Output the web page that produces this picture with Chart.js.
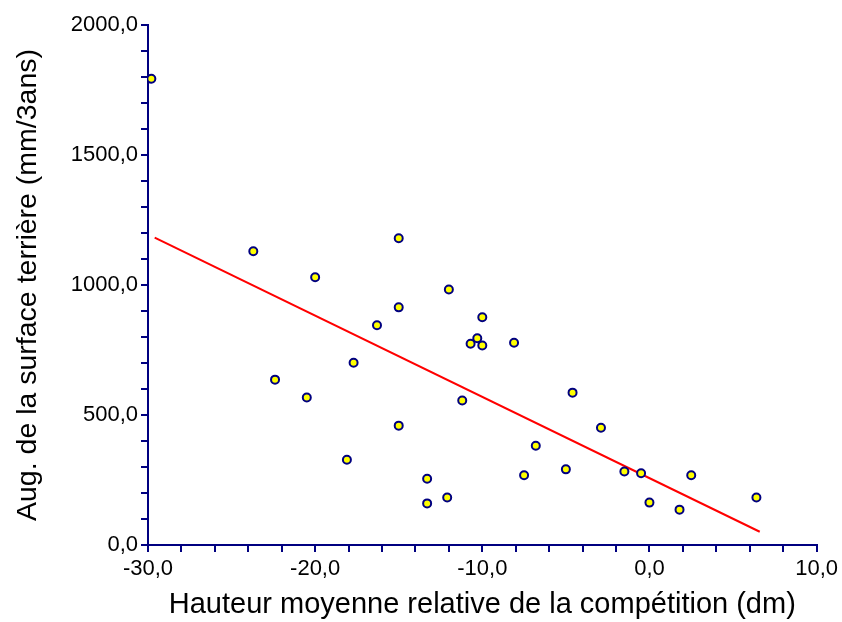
<!DOCTYPE html>
<html lang="fr">
<head>
<meta charset="utf-8">
<title>Augmentation de la surface terrière</title>
<script src="https://cdn.jsdelivr.net/npm/chart.js@4/dist/chart.umd.min.js"></script>
<style>
    html, body { margin: 0; padding: 0; background: #ffffff; }
    .chart-wrap { position: relative; width: 842px; height: 622px; }
</style>
</head>
<body>
<div class="chart-wrap">
    <canvas id="growthChart"></canvas>
</div>
<script>
// Values
const heightRel = [-29.8, -23.7, -22.4, -20.5, -20.0, -18.1, -17.7, -16.3, -15.0, -15.0, -15.0,
    -13.3, -13.3, -12.1, -12.0, -11.2, -10.7, -10.3, -10.0, -10.0, -8.1, -7.5, -6.8, -5.0,
    -4.6, -2.9, -1.5, -0.5, 0.0, 1.8, 2.5, 6.4];
const basalGrowth = [1793, 1130, 636, 567, 1030, 328, 701, 845, 1180, 914, 459,
    255, 160, 183, 983, 556, 774, 795, 876, 767, 778, 268, 382, 291,
    586, 451, 283, 276, 163, 136, 268, 183];

// Regression line end points
const fitX = [-29.6, 6.6];
const fitY = [1182, 51];

const xLabelTicks = [-30, -20, -10, 0, 10];
const yLabelTicks = [0, 500, 1000, 1500, 2000];

const AXIS_COLOR = '#000080';

document.addEventListener('DOMContentLoaded', () => {
    renderChart();
});

function frNumber(v) {
    return v.toFixed(1).replace('.', ',');
}

function renderChart() {
    const ctx = document.getElementById('growthChart');
    if (!ctx || typeof Chart === 'undefined') return;

    Chart.defaults.font.family = '"Liberation Sans", Arial, sans-serif';
    Chart.defaults.color = '#000000';

    const points = heightRel.map((x, i) => ({ x: x, y: basalGrowth[i] }));
    const fitLine = fitX.map((x, i) => ({ x: x, y: fitY[i] }));

    const axisGrid = {
        drawOnChartArea: false,
        drawTicks: true,
        tickLength: 7,
        tickWidth: 2,
        tickColor: AXIS_COLOR,
        color: AXIS_COLOR,
        lineWidth: 2
    };

    new Chart(ctx, {
        type: 'scatter',
        data: {
            datasets: [{
                data: points,
                backgroundColor: '#ffff00',
                borderColor: AXIS_COLOR,
                borderWidth: 2,
                pointRadius: 4,
                pointHoverRadius: 4,
                order: 1
            }, {
                type: 'line',
                data: fitLine,
                borderColor: '#ff0000',
                borderWidth: 2,
                pointRadius: 0,
                fill: false,
                order: 2
            }]
        },
        options: {
            responsive: true,
            maintainAspectRatio: false,
            animation: false,
            layout: { padding: { top: 25, right: 22, left: 0, bottom: 0 } },
            plugins: {
                legend: { display: false },
                tooltip: { enabled: false }
            },
            scales: {
                x: {
                    type: 'linear',
                    min: -30,
                    max: 10,
                    grid: axisGrid,
                    border: { display: true, color: AXIS_COLOR, width: 2 },
                    ticks: {
                        stepSize: 2,
                        autoSkip: false,
                        maxRotation: 0,
                        padding: 4,
                        font: { size: 22 },
                        callback: v => xLabelTicks.includes(Math.round(v * 10) / 10) ? frNumber(v) : ''
                    },
                    title: {
                        display: true,
                        text: 'Hauteur moyenne relative de la compétition (dm)',
                        font: { size: 29 },
                        padding: { top: 0, bottom: 0 }
                    },
                    afterFit: scale => { scale.height = 77; }
                },
                y: {
                    type: 'linear',
                    min: 0,
                    max: 2000,
                    grid: axisGrid,
                    border: { display: true, color: AXIS_COLOR, width: 2 },
                    ticks: {
                        stepSize: 100,
                        autoSkip: false,
                        padding: 3,
                        font: { size: 22 },
                        callback: v => yLabelTicks.includes(Math.round(v)) ? frNumber(v) : ''
                    },
                    title: {
                        display: true,
                        text: 'Aug. de la surface terrière (mm/3ans)',
                        font: { size: 28.5 },
                        padding: { top: 11, bottom: 0 }
                    },
                    afterFit: scale => { scale.width = 148; }
                }
            }
        }
    });
}
</script>
</body>
</html>
